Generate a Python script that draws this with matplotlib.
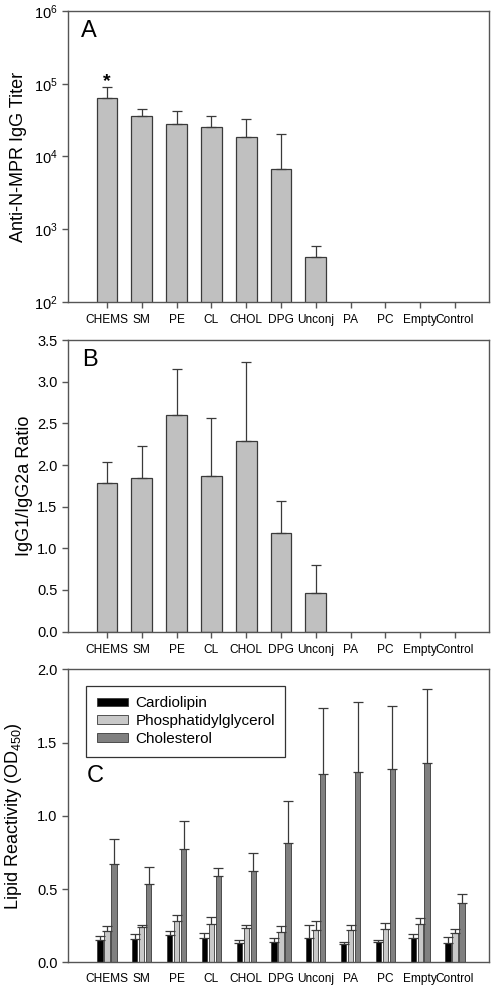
import numpy as np
import matplotlib
matplotlib.use('Agg')
import matplotlib.pyplot as plt

plt.rcParams['font.family'] = ['Liberation Sans', 'DejaVu Sans']
plt.rcParams['mathtext.fontset'] = 'custom'
plt.rcParams['mathtext.rm'] = 'Liberation Sans'
plt.rcParams['mathtext.it'] = 'Liberation Sans'

# 数据
groups = ['CHEMS', 'SM', 'PE', 'CL', 'CHOL', 'DPG', 'Unconj', 'PA', 'PC', 'Empty', 'Control']

titer = [63000, 35600, 27700, 25100, 18300, 6670, 420, 0, 0, 0, 0]
titer_top = [91000, 44600, 41800, 36400, 33100, 20200, 582, 0, 0, 0, 0]

ratio = [1.78, 1.84, 2.60, 1.87, 2.29, 1.19, 0.46, 0, 0, 0, 0]
ratio_top = [2.04, 2.23, 3.15, 2.57, 3.24, 1.57, 0.80, 0, 0, 0, 0]

cardiolipin = [0.155, 0.159, 0.187, 0.166, 0.134, 0.137, 0.168, 0.125, 0.137, 0.168, 0.130]
cardiolipin_top = [0.180, 0.191, 0.212, 0.200, 0.155, 0.166, 0.257, 0.141, 0.155, 0.193, 0.171]
pg = [0.216, 0.239, 0.284, 0.259, 0.234, 0.205, 0.218, 0.218, 0.225, 0.259, 0.198]
pg_top = [0.246, 0.253, 0.325, 0.312, 0.253, 0.248, 0.282, 0.253, 0.266, 0.300, 0.225]
chol = [0.669, 0.537, 0.771, 0.589, 0.621, 0.815, 1.288, 1.299, 1.317, 1.363, 0.403]
chol_top = [0.842, 0.651, 0.967, 0.644, 0.744, 1.104, 1.736, 1.779, 1.750, 1.863, 0.464]

x = np.arange(len(groups))
edge = '#3a3a3a'
spine_c = '#555555'

fig = plt.figure(figsize=(4.97, 9.91), dpi=100)
axA = fig.add_axes([0.1368, 0.6953, 0.8472, 0.2936])
axB = fig.add_axes([0.1368, 0.3626, 0.8472, 0.2943])
axC = fig.add_axes([0.1368, 0.0290, 0.8472, 0.2956])


def style(ax):
    for s in ax.spines.values():
        s.set_color(spine_c)
        s.set_linewidth(1.0)
    ax.tick_params(axis='both', direction='out', color=spine_c, length=4, width=1)
    ax.tick_params(axis='x', labelsize=8.6, pad=5)
    ax.tick_params(axis='y', labelsize=10.5)
    ax.tick_params(axis='y', which='minor', length=0)
    ax.set_xlim(-1.12, 10.98)
    ax.set_xticks(x)
    ax.set_xticklabels(groups)


def up_err(vals, tops):
    # 只画上方误差线
    return [np.zeros(len(vals)), np.array(tops) - np.array(vals)]


ekw = dict(ecolor=edge, elinewidth=0.9, capsize=3.5, capthick=0.9)

# A
t = np.array(titer)
tt = np.array(titer_top)
m = t > 0
axA.set_yscale('log')
axA.bar(x[m], t[m], width=0.6, color='#c0c0c0', edgecolor=edge, linewidth=0.9,
        yerr=up_err(t[m], tt[m]), error_kw=ekw)
axA.set_ylim(1e2, 1e6)
style(axA)
axA.set_ylabel('Anti-N-MPR IgG Titer', fontsize=13)
axA.yaxis.set_label_coords(-0.097, 0.5)
axA.text(0.030, 0.910, 'A', transform=axA.transAxes, fontsize=17, va='baseline')
axA.text(0, tt[0] * 1.02, '*', ha='center', va='baseline', fontsize=14, fontweight='bold')

# B
r = np.array(ratio)
rt = np.array(ratio_top)
m = r > 0
axB.bar(x[m], r[m], width=0.6, color='#c0c0c0', edgecolor=edge, linewidth=0.9,
        yerr=up_err(r[m], rt[m]), error_kw=ekw)
axB.set_ylim(0, 3.5)
yt = np.arange(0, 3.51, 0.5)
axB.set_yticks(yt)
axB.set_yticklabels(['%.1f' % v for v in yt])
style(axB)
axB.set_ylabel('IgG1/IgG2a Ratio', fontsize=13)
axB.yaxis.set_label_coords(-0.083, 0.5)
axB.text(0.0325, 0.912, 'B', transform=axB.transAxes, fontsize=17, va='baseline')

# C
w = 0.15
off = 0.2
ek = dict(ecolor=edge, elinewidth=0.9, capsize=3.5, capthick=0.9)
axC.bar(x - off, cardiolipin, width=w, color='#000000', edgecolor=edge, linewidth=0.6,
        yerr=up_err(cardiolipin, cardiolipin_top), error_kw=ek, label='Cardiolipin')
axC.bar(x, pg, width=w, color='#c8c8c8', edgecolor=edge, linewidth=0.6,
        yerr=up_err(pg, pg_top), error_kw=ek, label='Phosphatidylglycerol')
axC.bar(x + off, chol, width=w, color='#808080', edgecolor=edge, linewidth=0.6,
        yerr=up_err(chol, chol_top), error_kw=ek, label='Cholesterol')
axC.set_ylim(0, 2.0)
yt = np.arange(0, 2.01, 0.5)
axC.set_yticks(yt)
axC.set_yticklabels(['%.1f' % v for v in yt])
style(axC)
axC.tick_params(axis='x', length=0, pad=8)
axC.set_ylabel('Lipid Reactivity (OD$_{450}$)', fontsize=13)
axC.yaxis.set_label_coords(-0.105, 0.5)
axC.text(0.044, 0.614, 'C', transform=axC.transAxes, fontsize=17, va='baseline')
leg = axC.legend(loc='upper left', bbox_to_anchor=(0.043, 0.944), borderaxespad=0, fontsize=11,
                 fancybox=False, framealpha=1, edgecolor='#333333', handlelength=2.07,
                 handleheight=0.52, borderpad=0.7, labelspacing=0.25, handletextpad=0.45)
leg.get_frame().set_linewidth(0.9)

fig.savefig('out.png', dpi=100)
